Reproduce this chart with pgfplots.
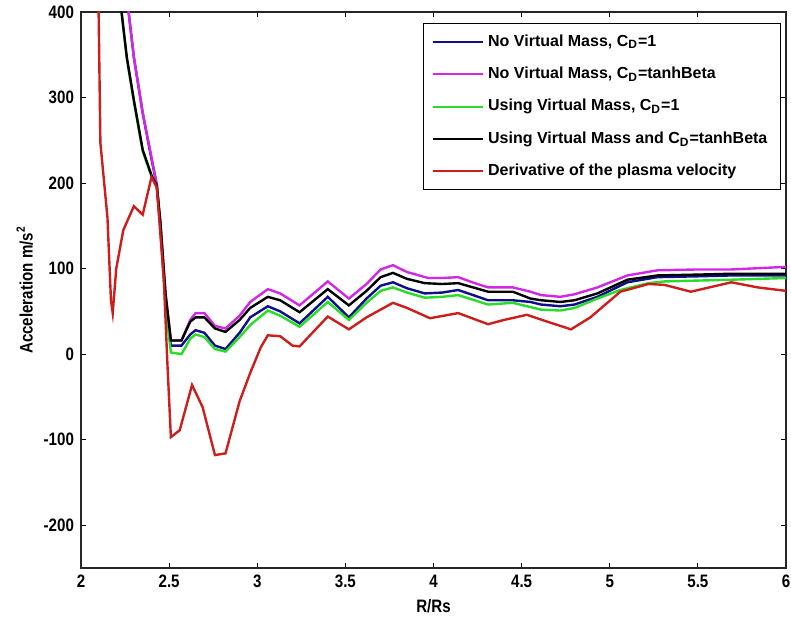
\documentclass[border=0pt]{standalone}
\usepackage{fontspec}
\setmainfont{Liberation Sans}[FakeStretch=0.84]
\newfontfamily\legfont{Liberation Sans}
\usepackage{pgfplots}
\pgfplotsset{compat=1.18}
\definecolor{cblue}{RGB}{15,15,140}
\definecolor{cmag}{RGB}{210,40,230}
\definecolor{cgreen}{RGB}{40,220,40}
\definecolor{cred}{RGB}{205,30,30}
\begin{document}
\begin{tikzpicture}
\begin{axis}[
 scale only axis, width=352.5pt, height=278pt,
 xmin=2, xmax=6, ymin=-250, ymax=400,
 xtick={2,2.5,3,3.5,4,4.5,5,5.5,6},
 ytick={-200,-100,0,100,200,300,400},
 tick align=inside, major tick length=2.5pt,
 tick style={black, line width=0.5pt},
 axis line style={line width=0.8pt, black!85},
 font=\bfseries\fontsize{9}{10}\selectfont,
 /pgf/number format/assume math mode=true,
 xlabel={R/Rs}, ylabel={Acceleration m/s\textsuperscript{2}},
 xlabel style={yshift=1pt},
 ylabel style={yshift=-1.5pt},
 legend style={at={(1,1)}, anchor=north east, xshift=-2.5pt, yshift=-5.5pt,
   draw=black, line width=0.6pt, font=\legfont\bfseries\fontsize{8}{10}\selectfont,
   row sep=4.9pt, inner xsep=4.5pt, inner ysep=3.5pt},
 legend cell align=left,
 legend image code/.code={\draw[#1, line width=1pt] (0pt,0pt) -- (25pt,0pt);},
 every axis plot/.append style={line width=1.2pt},
]
\addplot[cblue] coordinates {(2.25,440)(2.27,400)(2.30,347)(2.35,282)(2.40,228)(2.43,198)(2.45,150)(2.48,60)(2.51,10)(2.57,10)(2.62,23)(2.65,28)(2.70,25)(2.76,10)(2.82,6)(2.90,25)(2.96,43)(3.06,56)(3.13,50)(3.24,36)(3.40,67)(3.52,43)(3.62,65)(3.70,80)(3.77,84)(3.85,77)(3.95,71)(4.05,72)(4.14,75)(4.31,63)(4.45,63)(4.55,61)(4.61,58)(4.72,56)(4.80,58)(4.93,67)(5.10,84)(5.27,90)(5.50,91)(5.69,92)(6.0,92)};
\addlegendentry{No Virtual Mass, C\textsubscript{D}=1}
\addplot[cmag] coordinates {(2.25,440)(2.27,400)(2.30,347)(2.35,282)(2.40,230)(2.43,198)(2.45,155)(2.48,70)(2.51,16)(2.57,16)(2.62,40)(2.65,48)(2.70,48)(2.76,33)(2.82,30)(2.90,45)(2.96,61)(3.06,76)(3.13,71)(3.24,57)(3.40,85)(3.52,65)(3.62,82)(3.70,99)(3.77,104)(3.85,96)(3.97,89)(4.05,89)(4.14,90)(4.22,84)(4.31,78)(4.45,78)(4.55,73)(4.61,69)(4.72,67)(4.80,70)(4.93,78)(5.10,92)(5.27,98)(5.50,99)(5.69,99)(6.0,102)};
\addlegendentry{No Virtual Mass, C\textsubscript{D}=tanhBeta}
\addplot[cgreen] coordinates {(2.21,440)(2.23,400)(2.26,345)(2.30,295)(2.35,237)(2.40,208)(2.43,195)(2.45,150)(2.48,55)(2.51,2)(2.57,0)(2.62,18)(2.65,23)(2.70,20)(2.76,6)(2.82,3)(2.90,20)(2.96,34)(3.06,51)(3.13,45)(3.24,32)(3.40,61)(3.52,40)(3.62,60)(3.70,74)(3.77,78)(3.85,72)(3.95,66)(4.05,67)(4.14,69)(4.31,58)(4.45,60)(4.55,55)(4.61,52)(4.72,51)(4.80,54)(4.93,65)(5.06,75)(5.22,83)(5.31,85)(5.50,86)(5.69,87)(6.0,89)};
\addlegendentry{Using Virtual Mass, C\textsubscript{D}=1}
\addplot[black] coordinates {(2.21,440)(2.23,400)(2.26,347)(2.30,297)(2.35,239)(2.40,209)(2.43,197)(2.45,155)(2.48,70)(2.51,16)(2.57,16)(2.62,38)(2.65,43)(2.70,43)(2.76,30)(2.82,26)(2.90,40)(2.96,54)(3.06,67)(3.13,63)(3.24,49)(3.40,76)(3.52,57)(3.62,74)(3.70,90)(3.77,95)(3.85,88)(3.95,83)(4.05,82)(4.14,83)(4.31,73)(4.45,73)(4.55,65)(4.61,63)(4.72,61)(4.80,63)(4.93,71)(5.10,87)(5.27,92)(5.50,93)(5.69,94)(6.0,94)};
\addlegendentry{Using Virtual Mass and C\textsubscript{D}=tanhBeta}
\addplot[cred] coordinates {(2.09,450)(2.10,400)(2.11,247)(2.15,160)(2.17,63)(2.18,48)(2.20,100)(2.24,145)(2.30,173)(2.35,163)(2.40,207)(2.43,195)(2.47,87)(2.49,-10)(2.51,-97)(2.56,-89)(2.63,-36)(2.69,-62)(2.76,-118)(2.82,-116)(2.90,-55)(2.96,-22)(3.02,8)(3.06,22)(3.13,21)(3.20,10)(3.24,9)(3.40,44)(3.52,29)(3.62,43)(3.77,60)(3.85,54)(3.98,42)(4.14,48)(4.31,35)(4.40,40)(4.53,46)(4.66,37)(4.78,29)(4.89,43)(5.06,73)(5.22,82)(5.31,81)(5.46,73)(5.69,84)(5.84,78)(6.0,74)};
\addlegendentry{Derivative of the plasma velocity}
\end{axis}
\pgfresetboundingbox
\path ([shift={(-40.5pt,-28pt)}]current axis.south west) rectangle ([shift={(2.5pt,6pt)}]current axis.north east);
\end{tikzpicture}
\end{document}
